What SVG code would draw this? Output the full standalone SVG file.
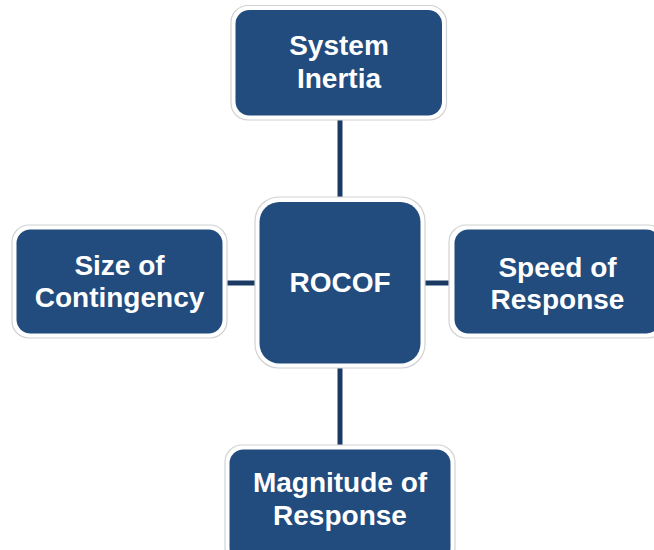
<svg xmlns="http://www.w3.org/2000/svg" width="654" height="550" viewBox="0 0 654 550">
  <style>
    .frame { fill: #ffffff; stroke: #d2d2d2; stroke-width: 1.2; }
    .box { fill: #224b7e; }
    .label { fill: #ffffff; font-family: "Liberation Sans", Arial, sans-serif; font-weight: bold; font-size: 28px; text-anchor: middle; }
    .link { stroke: #1a3a64; stroke-width: 5; fill: none; }
  </style>
  <rect width="654" height="550" fill="#ffffff"/>

  <!-- connectors between the central node and its four neighbours -->
  <g id="connectors">
    <line class="link" x1="340" y1="118" x2="340" y2="199"/>
    <line class="link" x1="340" y1="366" x2="340" y2="447"/>
    <line class="link" x1="225" y1="283" x2="257" y2="283"/>
    <line class="link" x1="423" y1="283" x2="451" y2="283"/>
  </g>

  <g id="node-system-inertia">
    <rect class="frame" x="231" y="5.5" width="215.5" height="114.5" rx="17"/>
    <rect class="box" x="235.5" y="10" width="206.5" height="105.5" rx="14"/>
    <text class="label" x="339" y="55">System</text>
    <text class="label" x="339" y="88">Inertia</text>
  </g>

  <g id="node-size-of-contingency">
    <rect class="frame" x="12" y="225" width="215" height="113" rx="17"/>
    <rect class="box" x="16.5" y="229.5" width="206" height="104" rx="14"/>
    <text class="label" x="119.5" y="275">Size of</text>
    <text class="label" x="119.5" y="307">Contingency</text>
  </g>

  <g id="node-rocof">
    <rect class="frame" x="255" y="197" width="170" height="171" rx="24"/>
    <rect class="box" x="259.5" y="202" width="161" height="161.5" rx="20"/>
    <text class="label" x="340" y="292">ROCOF</text>
  </g>

  <g id="node-speed-of-response">
    <rect class="frame" x="449" y="225" width="216" height="113" rx="17"/>
    <rect class="box" x="454.5" y="229.5" width="206" height="104" rx="14"/>
    <text class="label" x="557.5" y="277">Speed of</text>
    <text class="label" x="557.5" y="309">Response</text>
  </g>

  <g id="node-magnitude-of-response">
    <rect class="frame" x="225" y="445" width="230" height="120" rx="17"/>
    <rect class="box" x="229.5" y="449.5" width="221" height="112" rx="14"/>
    <text class="label" x="340" y="492">Magnitude of</text>
    <text class="label" x="340" y="525">Response</text>
  </g>
</svg>
